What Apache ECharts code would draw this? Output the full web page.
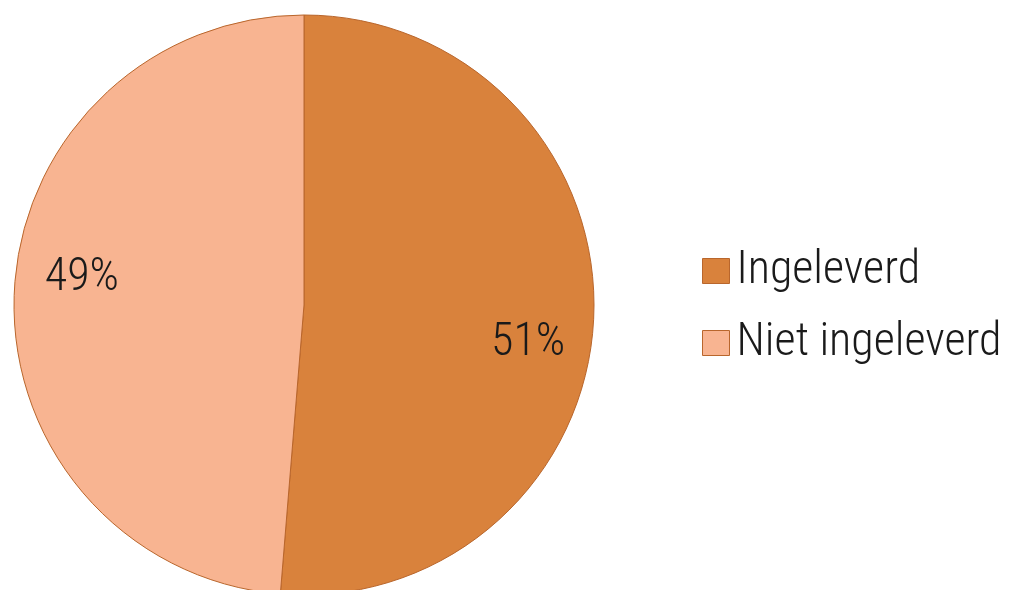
<!DOCTYPE html>
<html>
<head>
<meta charset="utf-8">
<script src="https://cdn.jsdelivr.net/npm/echarts@6/dist/echarts.min.js"></script>
<style>html,body{margin:0;padding:0;background:#fff}#c{width:1010px;height:590px}</style>
</head>
<body>
<div id="c"></div>
<script>
const categories = ['Ingeleverd', 'Niet ingeleverd'];
const values = [51.3, 48.7];
const colors = ['#D9823C', '#F8B491'];

const chart = echarts.init(document.getElementById('c'));
const FONT = '"Roboto Condensed", "Liberation Sans", sans-serif';
const data = categories.map((n, i) => ({ name: n, value: values[i], itemStyle: { color: colors[i] } }));
chart.setOption({
  animation: false,
  backgroundColor: '#fff',
  legend: {
    orient: 'vertical',
    left: 697,
    top: 243,
    itemWidth: 27,
    itemHeight: 25,
    itemGap: 26,
    icon: 'rect',
    itemStyle: { borderColor: '#B9662C', borderWidth: 1 },
    textStyle: { fontFamily: FONT, fontWeight: 300, fontSize: 46, color: '#1a1a1a', padding: [0, 0, 0, 2] },
    data: categories
  },
  series: [
    {
      type: 'pie',
      center: [304, 305],
      radius: [0, 290],
      startAngle: 90,
      clockwise: true,
      data: data,
      label: { show: false },
      labelLine: { show: false },
      itemStyle: { borderColor: '#B9662C', borderWidth: 1 },
      emphasis: { disabled: true }
    },
    {
      type: 'pie',
      center: [305, 311],
      radius: [200, 245],
      startAngle: 84,
      clockwise: true,
      silent: true,
      legendHoverLink: false,
      data: categories.map((n, i) => ({ name: n, value: values[i], itemStyle: { color: 'rgba(0,0,0,0)' } })),
      itemStyle: { borderWidth: 0 },
      label: {
        show: true,
        position: 'inside',
        fontFamily: FONT,
        fontWeight: 300,
        fontSize: 46,
        color: '#1a1a1a',
        formatter: p => Math.round(p.percent) + '%'
      },
      labelLine: { show: false },
      emphasis: { disabled: true },
      tooltip: { show: false }
    }
  ]
});
</script>
</body>
</html>
